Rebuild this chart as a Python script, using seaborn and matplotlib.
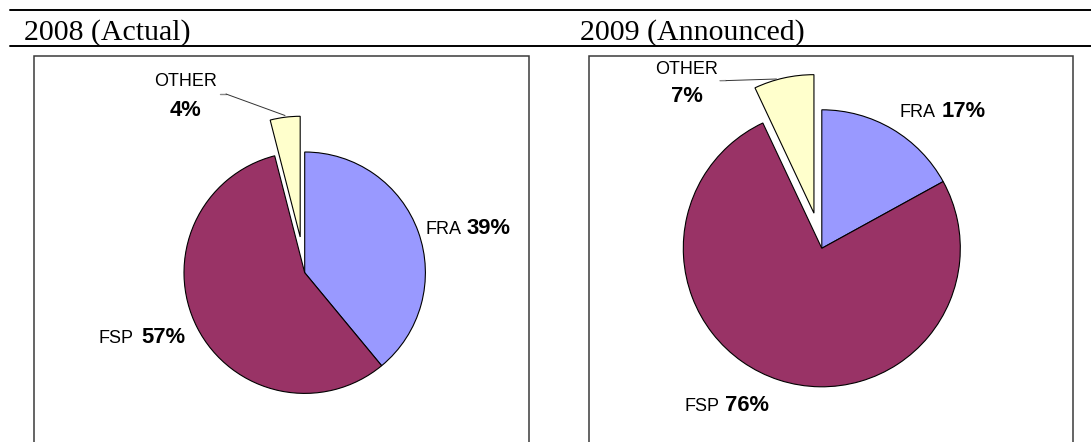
import matplotlib
matplotlib.use('Agg')
import matplotlib.pyplot as plt
import seaborn as sns

# ---- data ----
categories = ['FRA', 'FSP', 'OTHER']
share_2008 = [39, 57, 4]
share_2009 = [17, 76, 7]
panel_titles = ['2008 (Actual)', '2009 (Announced)']
slice_colors = ['#9999FF', '#993366', '#FFFFCC']

sns.set_theme(style='white')
plt.rcParams['font.family'] = ['Liberation Sans', 'DejaVu Sans']

W, H = 1091, 442
fig = plt.figure(figsize=(W / 100, H / 100), dpi=100)
ax = fig.add_axes([0, 0, 1, 1])
palette = sns.color_palette(slice_colors)


def Y(y):
    return H - y


# ---- layout (pixel coordinates, y measured from top) ----
panels = [
    dict(values=share_2008, title=panel_titles[0], title_x=23.5,
         box=(33.8, 529.3), center=(304.7, 272.7), radius=120.7, explode=36,
         labels={
             'FRA': ('side', 461.5, 466.7, 233.5),
             'FSP': ('side', 133.5, 141.7, 343.3),
             'OTHER': ('stack', 186, 86, 116.5),
         },
         leader=[(220, 94), (226, 94), (285, 115.5)]),
    dict(values=share_2009, title=panel_titles[1], title_x=580,
         box=(588.5, 1072.7), center=(821.8, 248.3), radius=138.5, explode=36,
         labels={
             'FRA': ('side', 935.7, 942, 117),
             'FSP': ('side', 719, 724.5, 411),
             'OTHER': ('stack', 686.5, 73.5, 101.7),
         },
         leader=[(720, 80.7), (726, 80.6), (776.5, 79)]),
]

name_fs = 13
pct_fs = 15.8

for p in panels:
    cx, cy = p['center']
    expl = [0, 0, p['explode']]
    ax.pie(p['values'], colors=palette, startangle=90, counterclock=False,
           center=(cx, Y(cy)), radius=p['radius'], explode=expl, frame=True,
           wedgeprops=dict(edgecolor='black', linewidth=0.8))
    # title
    ax.text(p['title_x'], Y(39.3), p['title'], family='Liberation Serif',
            fontsize=21.5, color='black', ha='left', va='baseline')
    # frame box (open at bottom)
    x0, x1 = p['box']
    ax.plot([x0, x0, x1, x1], [Y(H + 5), Y(55.7), Y(55.7), Y(H + 5)],
            color='#3a3a3a', lw=1.1, solid_joinstyle='miter', clip_on=False)
    # labels
    for cat, val in zip(categories, p['values']):
        spec = p['labels'][cat]
        if spec[0] == 'side':
            _, xr, xl, base = spec
            ax.text(xr, Y(base), cat, fontsize=name_fs, ha='right', va='baseline',
                    color='black')
            ax.text(xl, Y(base), f'{val}%', fontsize=pct_fs, fontweight='bold',
                    ha='left', va='baseline', color='black')
        else:
            _, xc, b1, b2 = spec
            ax.text(xc, Y(b1), cat, fontsize=name_fs, ha='center', va='baseline',
                    color='black')
            ax.text(xc, Y(b2), f'{val}%', fontsize=pct_fs, fontweight='bold',
                    ha='center', va='baseline', color='black')
    lx = [pt[0] for pt in p['leader']]
    ly = [Y(pt[1]) for pt in p['leader']]
    ax.plot(lx[:2], ly[:2], color='#8a8a8a', lw=1.0)
    ax.plot(lx[1:], ly[1:], color='#333333', lw=0.7)

# horizontal rules
ax.plot([10, W], [Y(10), Y(10)], color='black', lw=1.4)
ax.plot([10, W], [Y(45.5), Y(45.5)], color='black', lw=1.4)

ax.set_xlim(0, W)
ax.set_ylim(0, H)
ax.set_aspect('auto')
ax.axis('off')

fig.savefig('out.png', dpi=100, facecolor='white')
